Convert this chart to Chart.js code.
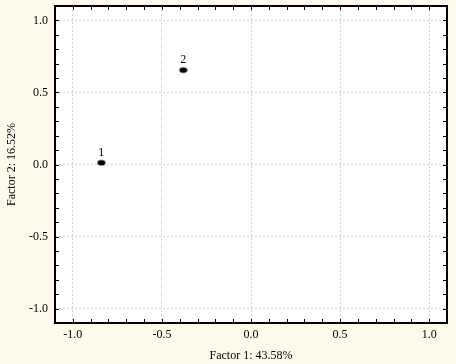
<!DOCTYPE html>
<html>
<head>
<meta charset="utf-8">
<script src="https://cdn.jsdelivr.net/npm/chart.js@4.4.0/dist/chart.umd.min.js"></script>
<style>
  html, body { margin: 0; padding: 0; background: #fdfaeb; }
  #wrap { width: 456px; height: 364px; }
</style>
</head>
<body>
<div id="wrap"><canvas id="myChart" width="456" height="364"></canvas></div>
<script>
// scores des cas sur les deux facteurs
const caseLabels = ['1', '2'];
const factor1 = [-0.84, -0.38];
const factor2 = [0.012, 0.655];
const majorLabels = ['-1.0', '-0.5', '0.0', '0.5', '1.0'];
const axisMin = -1.1;
const axisMax = 1.1;

const serif = "'Liberation Serif', 'DejaVu Serif', serif";

// point noir ovale
const dot = document.createElement('canvas');
dot.width = 9; dot.height = 7;
const dctx = dot.getContext('2d');
dctx.fillStyle = '#000';
dctx.beginPath();
dctx.ellipse(4.5, 3.5, 4, 2.8, 0, 0, Math.PI * 2);
dctx.fill();

function isMajor(v) {
    return majorLabels.includes((Math.abs(v) < 1e-9 ? 0 : v).toFixed(1));
}

const frame = {
    id: 'frame',
    beforeDraw(chart) {
        const { ctx, chartArea: a } = chart;
        ctx.save();
        ctx.fillStyle = '#fdfaeb';
        ctx.fillRect(0, 0, chart.width, chart.height);
        ctx.fillStyle = '#ffffff';
        ctx.fillRect(a.left, a.top, a.right - a.left, a.bottom - a.top);
        ctx.restore();
    },
    afterDraw(chart) {
        const { ctx, chartArea: a, scales } = chart;
        ctx.save();
        ctx.strokeStyle = '#000';
        ctx.lineWidth = 1;
        // petites graduations vers l'interieur
        scales.x.ticks.forEach(t => {
            const px = Math.round(scales.x.getPixelForValue(t.value)) + 0.5;
            if (px <= a.left + 1 || px >= a.right - 1) return;
            ctx.beginPath();
            ctx.moveTo(px, a.bottom); ctx.lineTo(px, a.bottom - 4);
            ctx.moveTo(px, a.top); ctx.lineTo(px, a.top + 4);
            ctx.stroke();
        });
        scales.y.ticks.forEach(t => {
            const py = Math.round(scales.y.getPixelForValue(t.value)) + 0.5;
            if (py <= a.top + 1 || py >= a.bottom - 1) return;
            ctx.beginPath();
            ctx.moveTo(a.left, py); ctx.lineTo(a.left + 4, py);
            ctx.moveTo(a.right, py); ctx.lineTo(a.right - 4, py);
            ctx.stroke();
        });
        ctx.lineWidth = 2;
        ctx.strokeRect(a.left, a.top, a.right - a.left, a.bottom - a.top);

        // etiquettes des points
        ctx.fillStyle = '#000';
        ctx.font = '12px ' + serif;
        ctx.textAlign = 'center';
        ctx.textBaseline = 'middle';
        chart.getDatasetMeta(0).data.forEach((pt, i) => {
            ctx.fillText(caseLabels[i], pt.x, pt.y - 10);
        });
        ctx.restore();
    }
};

const data = {
    datasets: [{
        data: factor1.map((x, i) => ({ x: x, y: factor2[i] })),
        pointStyle: dot,
        pointRadius: 4,
        pointHoverRadius: 4
    }]
};

function axis(title, isY) {
    return {
        type: 'linear',
        min: axisMin,
        max: axisMax,
        border: { display: false, dash: [2, 2] },
        grid: {
            drawTicks: false,
            lineWidth: 1,
            color: c => isMajor(c.tick.value) ? '#d4d4d4' : 'rgba(0,0,0,0)'
        },
        ticks: {
            stepSize: 0.1,
            autoSkip: false,
            maxRotation: 0,
            color: '#000',
            font: { family: serif, size: 12 },
            padding: isY ? 7 : 5,
            callback: v => isMajor(v) ? (Math.abs(v) < 1e-9 ? 0 : v).toFixed(1) : ''
        },
        title: {
            display: true,
            text: title,
            color: '#000',
            font: { family: serif, size: 12 },
            padding: isY ? { top: 5, bottom: 0 } : { top: 0, bottom: 1 }
        },
        afterFit: s => {
            if (isY) {
                s.width = 55;
                s.paddingTop = 0;
                s.paddingBottom = 0;
            } else {
                s.height = 41;
                s.paddingLeft = 0;
                s.paddingRight = 0;
            }
        }
    };
}

new Chart(document.getElementById('myChart').getContext('2d'), {
    type: 'scatter',
    data: data,
    options: {
        responsive: false,
        animation: false,
        layout: { padding: { top: 6, right: 9, left: 0, bottom: 0 } },
        plugins: {
            legend: { display: false },
            tooltip: { enabled: false }
        },
        scales: {
            x: axis('Factor 1: 43.58%', false),
            y: axis('Factor 2: 16.52%', true)
        }
    },
    plugins: [frame]
});
</script>
</body>
</html>
